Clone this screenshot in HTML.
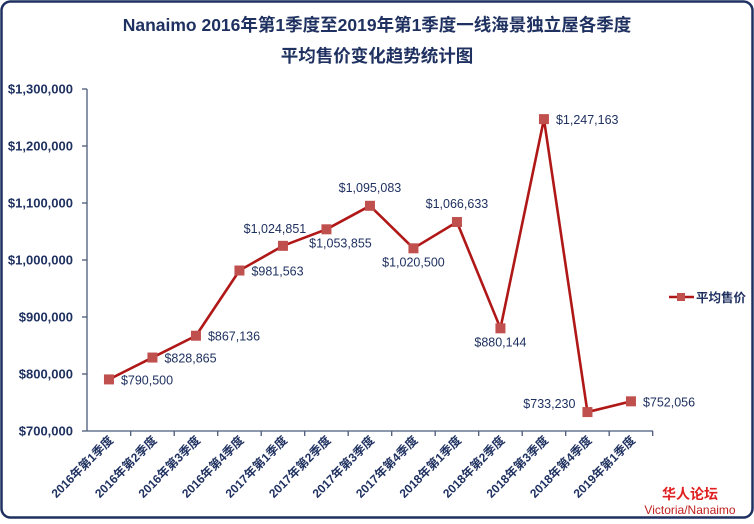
<!DOCTYPE html>
<html><head><meta charset="utf-8"><style>
body{margin:0;background:#fff}
svg text{font-family:"Liberation Sans","Noto Sans CJK SC",sans-serif}
</style></head><body>
<svg width="754" height="519" viewBox="0 0 754 519" xmlns="http://www.w3.org/2000/svg">
<rect x="1.5" y="1.5" width="751" height="516" rx="9" fill="#fff" stroke="#1f3160" stroke-width="2.5"/>
<text x="377" y="31" text-anchor="middle" font-size="17.5" font-weight="bold" fill="#1f3160">Nanaimo 2016年第1季度至2019年第1季度一线海景独立屋各季度</text>
<text x="377" y="62" text-anchor="middle" font-size="17.5" font-weight="bold" fill="#1f3160">平均售价变化趋势统计图</text>
<g stroke="#4a5a7a" stroke-width="1.3">
<line x1="87" y1="89" x2="87" y2="431"/>
<line x1="87" y1="431" x2="653" y2="431"/>
</g>
<g id="yt" font-size="13" font-weight="bold" fill="#1f3160" text-anchor="end"></g>
<g id="ticks" stroke="#4a5a7a" stroke-width="1.3"></g>
<g id="xl" font-size="12" font-weight="bold" fill="#1f3160"></g>
<polyline id="ln" fill="none" stroke="#b01818" stroke-width="2.6" stroke-linejoin="round"/>
<g id="pts" fill="#c0504d"></g>
<g id="dl" font-size="12.5" fill="#1f3160"></g>
<line x1="669" y1="297" x2="694" y2="297" stroke="#b01818" stroke-width="2.6"/>
<rect x="677" y="293" width="8" height="8" fill="#c0504d"/>
<text x="696" y="302" font-size="12.5" font-weight="bold" fill="#1f3160">平均售价</text>
<text x="690" y="499" text-anchor="middle" font-size="14" font-weight="bold" fill="#e02020">华人论坛</text>
<text x="690" y="514" text-anchor="middle" font-size="12" fill="#c02020">Victoria/Nanaimo</text>
</svg>
<script>
const ns="http://www.w3.org/2000/svg";
function el(p,t,a,txt){const e=document.createElementNS(ns,t);for(const k in a)e.setAttribute(k,a[k]);if(txt)e.textContent=txt;document.getElementById(p).appendChild(e);}
const Y=v=>431-(v-700000)/100000*57;
for(let v=700000;v<=1300000;v+=100000){const y=Y(v);el('yt','text',{x:73,y:y+4.5},'$'+v.toLocaleString('en-US'));el('ticks','line',{x1:82,y1:y,x2:87,y2:y});}
const lab=["2016年第1季度","2016年第2季度","2016年第3季度","2016年第4季度","2017年第1季度","2017年第2季度","2017年第3季度","2017年第4季度","2018年第1季度","2018年第2季度","2018年第3季度","2018年第4季度","2019年第1季度"];
const vals=[790500,828865,867136,981563,1024851,1053855,1095083,1020500,1066633,880144,1247163,733230,752056];
const off=[[12,5,'start'],[12,5,'start'],[12,5,'start'],[12,5,'start'],[-8,-13,'middle'],[14,18,'middle'],[0,-14,'middle'],[0,18,'middle'],[0,-14,'middle'],[0,18,'middle'],[12,5,'start'],[-12,-4,'end'],[12,5,'start']];
let pts=[];
for(let i=0;i<13;i++){const x=87.2+43.5*(i+0.5);el('ticks','line',{x1:87.2+43.5*(i+1),y1:431,x2:87.2+43.5*(i+1),y2:436});
el('xl','text',{x:x+5,y:441,'text-anchor':'end',transform:`rotate(-45 ${x+5} 441)`},lab[i]);
const y=Y(vals[i]);pts.push(x+','+y);el('pts','rect',{x:x-5,y:y-5,width:10,height:10});
el('dl','text',{x:x+off[i][0],y:y+off[i][1],'text-anchor':off[i][2]},'$'+vals[i].toLocaleString('en-US'));}
document.getElementById('ln').setAttribute('points',pts.join(' '));
</script>
</body></html>
